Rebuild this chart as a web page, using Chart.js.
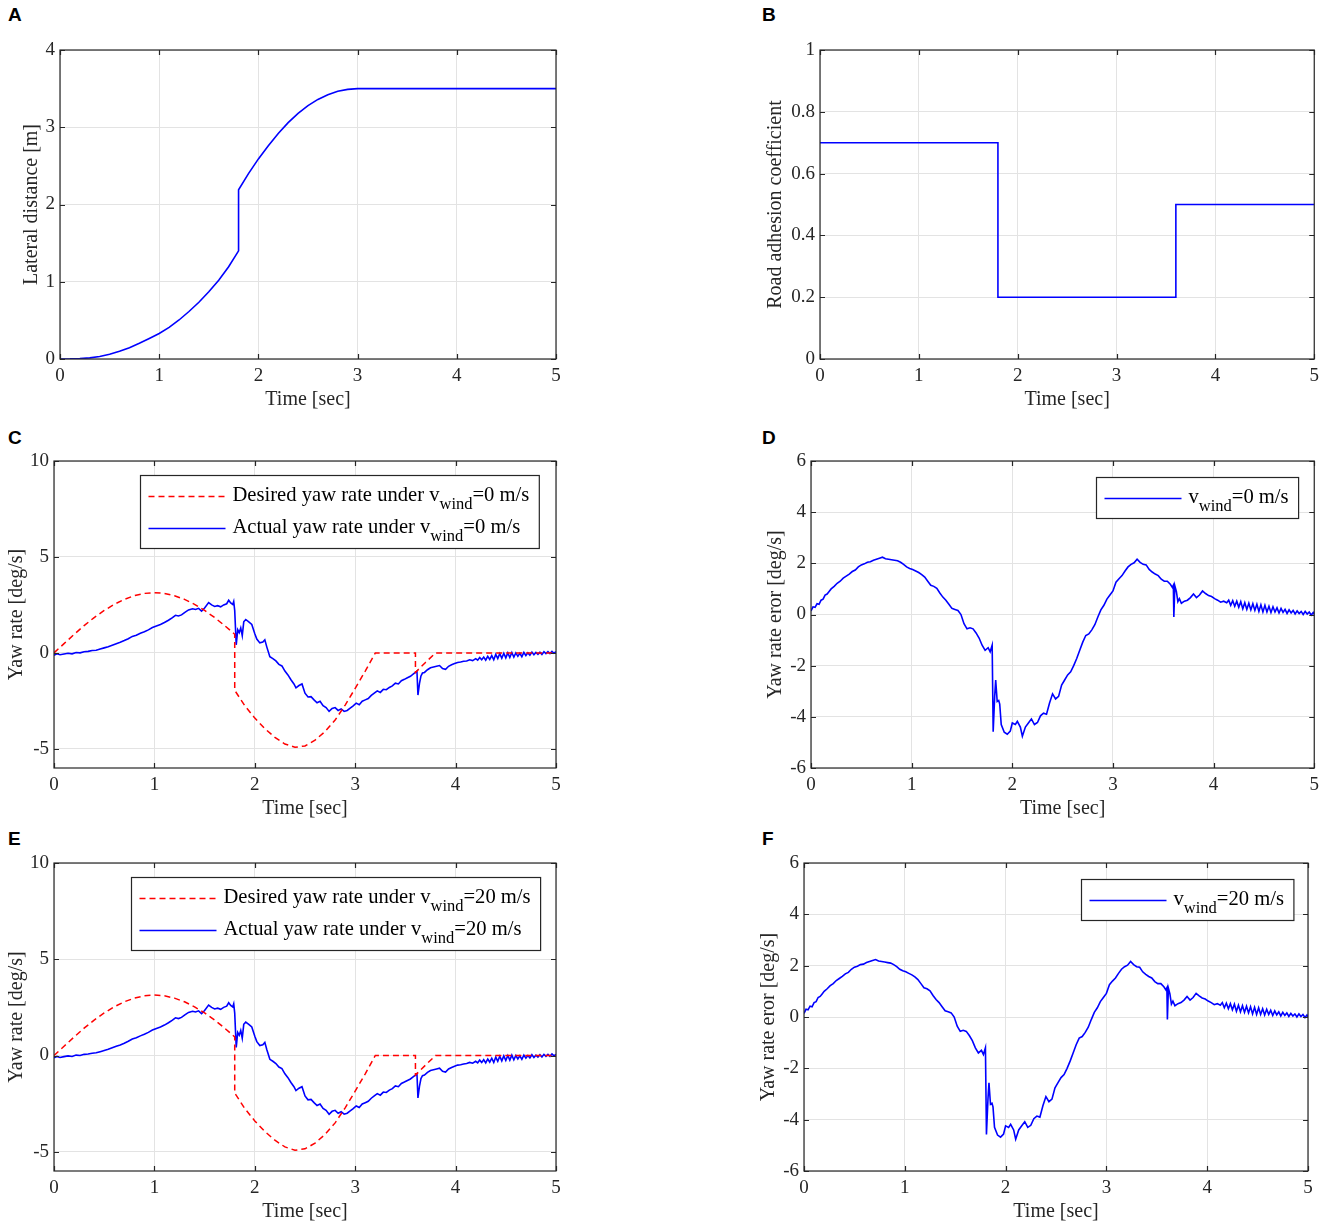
<!DOCTYPE html>
<html><head><meta charset="utf-8">
<script src="https://cdn.jsdelivr.net/npm/chart.js@4.4.1/dist/chart.umd.min.js"></script>
<style>
html,body{margin:0;padding:0;background:#fff;}
body{width:1325px;height:1226px;position:relative;overflow:hidden;}
canvas{position:absolute;}
.lbl{position:absolute;font:bold 19px "Liberation Sans",Arial,sans-serif;line-height:19px;color:#000;}
</style></head><body>
<div class="lbl" style="left:8px;top:5px">A</div>
<div class="lbl" style="left:762px;top:5px">B</div>
<div class="lbl" style="left:8px;top:428px">C</div>
<div class="lbl" style="left:762px;top:428px">D</div>
<div class="lbl" style="left:8px;top:829px">E</div>
<div class="lbl" style="left:762px;top:829px">F</div>
<canvas id="cA" width="640" height="390" style="left:0;top:30px"></canvas>
<canvas id="cB" width="585" height="390" style="left:740px;top:30px"></canvas>
<canvas id="cC" width="640" height="400" style="left:0;top:430px"></canvas>
<canvas id="cD" width="585" height="400" style="left:740px;top:430px"></canvas>
<canvas id="cE" width="640" height="394" style="left:0;top:832px"></canvas>
<canvas id="cF" width="585" height="394" style="left:740px;top:832px"></canvas>
<script>
// ---------------- DATA ----------------
const timeTicks = [0, 1, 2, 3, 4, 5];
const lateralTicks = [0, 1, 2, 3, 4];
const adhesionTicks = [0, 0.2, 0.4, 0.6, 0.8, 1];
const yawRateTicks = [-5, 0, 5, 10];
const yawErrorTicks = [-6, -4, -2, 0, 2, 4, 6];

// [time (s), lateral distance (m)]
const lateralDistance = [[0,0],[0.1,0.001],[0.2,0.005],[0.3,0.015],[0.4,0.033],[0.5,0.061],[0.6,0.099],[0.7,0.147],[0.8,0.204],[0.9,0.266],[1.0,0.33],[1.1,0.41],[1.2,0.505],[1.3,0.615],[1.4,0.735],[1.5,0.87],[1.6,1.02],[1.7,1.195],[1.8,1.40],[1.8,2.19],[1.9,2.40],[2.0,2.59],[2.1,2.76],[2.2,2.92],[2.3,3.06],[2.4,3.18],[2.5,3.28],[2.6,3.36],[2.7,3.42],[2.8,3.465],[2.9,3.49],[3.0,3.5],[5.0,3.5]];

// [time (s), road adhesion coefficient]
const roadAdhesion = [[0,0.7],[1.8,0.7],[1.8,0.2],[3.6,0.2],[3.6,0.5],[5,0.5]];

// [time (s), desired yaw rate (deg/s)]
const desiredYawRate = [[0,0],[0.1,0.48],[0.2,0.96],[0.3,1.42],[0.4,1.84],[0.5,2.21],[0.6,2.53],[0.7,2.79],[0.8,2.98],[0.9,3.10],[1.0,3.14],[1.1,3.10],[1.2,2.98],[1.3,2.79],[1.4,2.53],[1.5,2.21],[1.6,1.84],[1.7,1.42],[1.8,0.97],[1.8,-1.95],[1.9,-2.75],[2.0,-3.40],[2.1,-3.95],[2.2,-4.40],[2.3,-4.75],[2.4,-4.92],[2.5,-4.85],[2.6,-4.55],[2.7,-4.10],[2.8,-3.50],[2.9,-2.72],[3.0,-1.85],[3.1,-0.95],[3.2,0],[3.6,0],[3.6,-1.02],[3.7,-0.5],[3.8,0],[5.0,0]];

// [time (s), actual yaw rate (deg/s)]
const actualYawRate = [[0,-0.12],[0.03,-0.05],[0.06,-0.10],[0.10,-0.06],[0.14,-0.02],[0.18,-0.05],[0.22,0.02],[0.26,0.00],[0.30,0.06],[0.34,0.08],[0.38,0.12],[0.42,0.14],[0.46,0.20],[0.50,0.26],[0.54,0.32],[0.58,0.40],[0.62,0.48],[0.66,0.55],[0.70,0.64],[0.74,0.74],[0.78,0.86],[0.82,0.92],[0.86,1.02],[0.90,1.10],[0.94,1.20],[0.98,1.32],[1.02,1.40],[1.06,1.48],[1.10,1.58],[1.14,1.70],[1.18,1.84],[1.21,1.96],[1.24,1.92],[1.27,1.98],[1.30,2.10],[1.34,2.24],[1.38,2.30],[1.41,2.26],[1.44,2.32],[1.47,2.18],[1.50,2.34],[1.54,2.62],[1.57,2.50],[1.60,2.42],[1.63,2.46],[1.66,2.40],[1.69,2.50],[1.72,2.56],[1.74,2.74],[1.76,2.60],[1.78,2.52],[1.79,2.68],[1.80,2.20],[1.815,0.42],[1.83,1.20],[1.845,1.05],[1.86,1.30],[1.875,0.90],[1.89,1.62],[1.91,1.74],[1.94,1.62],[1.97,1.48],[2.00,1.00],[2.02,0.72],[2.05,0.52],[2.08,0.56],[2.10,0.68],[2.12,0.30],[2.15,-0.20],[2.18,-0.30],[2.21,-0.42],[2.24,-0.60],[2.27,-0.68],[2.30,-0.95],[2.33,-1.15],[2.36,-1.40],[2.39,-1.62],[2.41,-1.82],[2.44,-1.70],[2.47,-1.62],[2.50,-2.10],[2.53,-2.30],[2.56,-2.28],[2.59,-2.45],[2.62,-2.60],[2.65,-2.52],[2.68,-2.75],[2.71,-2.85],[2.74,-3.05],[2.77,-2.90],[2.80,-2.85],[2.83,-3.00],[2.86,-2.92],[2.89,-3.05],[2.92,-3.00],[2.95,-2.88],[2.98,-2.76],[3.01,-2.62],[3.04,-2.70],[3.07,-2.52],[3.10,-2.45],[3.13,-2.38],[3.16,-2.22],[3.19,-2.10],[3.22,-1.98],[3.25,-2.06],[3.28,-1.90],[3.31,-1.92],[3.34,-1.80],[3.37,-1.72],[3.40,-1.58],[3.43,-1.62],[3.46,-1.45],[3.49,-1.38],[3.52,-1.30],[3.55,-1.22],[3.58,-1.10],[3.60,-1.02],[3.615,-0.95],[3.625,-2.20],[3.64,-1.60],[3.655,-1.20],[3.67,-1.05],[3.69,-1.02],[3.72,-0.88],[3.75,-0.78],[3.78,-0.74],[3.81,-0.70],[3.84,-0.66],[3.87,-0.82],[3.90,-0.86],[3.93,-0.70],[3.96,-0.62],[3.99,-0.56],[4.02,-0.50],[4.05,-0.48],[4.08,-0.44],[4.11,-0.42],[4.14,-0.36],[4.17,-0.40],[4.20,-0.30],[4.22,-0.38],[4.24,-0.24],[4.26,-0.36],[4.28,-0.22],[4.30,-0.38],[4.32,-0.18],[4.34,-0.34],[4.36,-0.14],[4.38,-0.36],[4.40,-0.08],[4.42,-0.30],[4.44,-0.04],[4.46,-0.28],[4.48,-0.02],[4.50,-0.26],[4.52,0.00],[4.54,-0.24],[4.56,0.02],[4.58,-0.22],[4.60,0.00],[4.62,-0.18],[4.64,-0.02],[4.66,-0.20],[4.68,0.02],[4.70,-0.14],[4.72,0.00],[4.74,-0.12],[4.76,0.04],[4.78,-0.10],[4.80,0.02],[4.82,-0.08],[4.84,0.04],[4.86,-0.08],[4.88,0.06],[4.90,-0.04],[4.92,0.06],[4.94,-0.04],[4.96,0.08],[4.98,-0.02],[5.00,0.06]];

// [time (s), yaw rate error (deg/s)]
const yawRateError = [[0,0.14],[0.02,0.30],[0.04,0.28],[0.06,0.42],[0.08,0.40],[0.10,0.56],[0.12,0.60],[0.14,0.76],[0.16,0.80],[0.18,0.90],[0.20,1.00],[0.23,1.10],[0.26,1.22],[0.29,1.30],[0.32,1.42],[0.35,1.50],[0.38,1.58],[0.41,1.68],[0.44,1.74],[0.47,1.86],[0.50,1.94],[0.53,1.98],[0.56,2.04],[0.59,2.06],[0.62,2.12],[0.65,2.16],[0.68,2.20],[0.71,2.24],[0.74,2.18],[0.77,2.16],[0.80,2.14],[0.83,2.12],[0.86,2.10],[0.89,2.04],[0.92,1.96],[0.95,1.86],[0.98,1.80],[1.01,1.76],[1.04,1.70],[1.07,1.64],[1.10,1.56],[1.13,1.46],[1.16,1.30],[1.19,1.14],[1.22,1.10],[1.25,1.02],[1.28,0.84],[1.31,0.68],[1.34,0.56],[1.37,0.40],[1.40,0.24],[1.43,0.20],[1.46,0.16],[1.49,0.00],[1.52,-0.36],[1.55,-0.56],[1.58,-0.52],[1.61,-0.56],[1.64,-0.72],[1.67,-0.92],[1.70,-1.20],[1.73,-1.40],[1.76,-1.30],[1.78,-1.46],[1.80,-1.20],[1.81,-4.58],[1.825,-3.20],[1.835,-2.56],[1.85,-3.40],[1.865,-3.36],[1.875,-3.50],[1.89,-4.30],[1.92,-4.60],[1.95,-4.68],[1.98,-4.56],[2.00,-4.24],[2.03,-4.30],[2.05,-4.18],[2.08,-4.40],[2.10,-4.76],[2.13,-4.40],[2.16,-4.24],[2.19,-4.08],[2.22,-4.30],[2.25,-4.22],[2.28,-3.96],[2.31,-3.86],[2.34,-3.90],[2.37,-3.46],[2.40,-3.10],[2.43,-3.30],[2.46,-3.20],[2.49,-2.76],[2.52,-2.56],[2.55,-2.36],[2.58,-2.24],[2.61,-2.00],[2.64,-1.72],[2.67,-1.40],[2.70,-1.08],[2.73,-0.82],[2.76,-0.76],[2.79,-0.60],[2.82,-0.40],[2.85,-0.10],[2.88,0.18],[2.91,0.36],[2.94,0.60],[2.97,0.76],[3.00,0.92],[3.03,1.26],[3.06,1.40],[3.09,1.52],[3.12,1.70],[3.15,1.86],[3.18,1.96],[3.21,2.02],[3.24,2.16],[3.27,2.04],[3.30,1.96],[3.33,1.94],[3.36,1.76],[3.39,1.66],[3.42,1.58],[3.45,1.52],[3.48,1.38],[3.51,1.30],[3.54,1.30],[3.57,1.18],[3.59,1.06],[3.60,1.14],[3.605,-0.10],[3.615,1.12],[3.63,0.90],[3.645,0.50],[3.66,0.62],[3.68,0.44],[3.71,0.52],[3.74,0.56],[3.77,0.66],[3.80,0.80],[3.83,0.66],[3.86,0.76],[3.89,0.92],[3.92,0.82],[3.95,0.74],[3.98,0.70],[4.01,0.62],[4.04,0.56],[4.07,0.48],[4.10,0.52],[4.13,0.46],[4.15,0.56],[4.17,0.36],[4.19,0.54],[4.21,0.32],[4.23,0.52],[4.25,0.28],[4.27,0.50],[4.29,0.22],[4.31,0.46],[4.33,0.20],[4.35,0.44],[4.37,0.18],[4.39,0.42],[4.41,0.16],[4.43,0.40],[4.45,0.12],[4.47,0.38],[4.49,0.10],[4.51,0.36],[4.53,0.10],[4.55,0.32],[4.57,0.08],[4.59,0.30],[4.61,0.10],[4.63,0.26],[4.65,0.06],[4.67,0.24],[4.69,0.08],[4.71,0.20],[4.73,0.04],[4.75,0.18],[4.77,0.06],[4.79,0.16],[4.81,0.02],[4.83,0.14],[4.85,0.04],[4.87,0.12],[4.89,0.00],[4.91,0.12],[4.93,0.02],[4.95,0.10],[4.97,-0.02],[4.99,0.08],[5.00,0.00]];

// Panels E and F (v_wind = 20 m/s) read identical to C and D in the figure
const desiredYawRate20 = desiredYawRate;
const actualYawRate20 = actualYawRate;
const yawRateError20 = yawRateError;

// ---------------- RENDERING ----------------
const SERIF = '"Liberation Serif", "Times New Roman", serif';
const AX = '#262626';
const BLUE = '#0000ff';
const RED = '#ff0000';
const toXY = arr => arr.map(p => ({x: p[0], y: p[1]}));

const framePlugin = {
  id: 'matFrame',
  afterDatasetsDraw(chart) {
    const {ctx, chartArea: a, scales: {x, y}} = chart;
    ctx.save();
    ctx.strokeStyle = AX;
    ctx.lineWidth = 1.2;
    ctx.setLineDash([]);
    ctx.beginPath();
    const L = 5;
    x.ticks.forEach(t => {
      const p = Math.round(x.getPixelForValue(t.value)) + 0.5;
      ctx.moveTo(p, a.bottom); ctx.lineTo(p, a.bottom - L);
      ctx.moveTo(p, a.top); ctx.lineTo(p, a.top + L);
    });
    y.ticks.forEach(t => {
      const p = Math.round(y.getPixelForValue(t.value)) + 0.5;
      ctx.moveTo(a.left, p); ctx.lineTo(a.left + L, p);
      ctx.moveTo(a.right, p); ctx.lineTo(a.right - L, p);
    });
    ctx.stroke();
    ctx.strokeRect(a.left, a.top, a.right - a.left, a.bottom - a.top);
    ctx.restore();
  }
};

const subLegendPlugin = {
  id: 'subLegend',
  afterDraw(chart, args, opts) {
    if (!opts || !opts.items) return;
    const {ctx, chartArea: a} = chart;
    const main = '20.6px ' + SERIF, sub = '16.5px ' + SERIF;
    ctx.save();
    const widths = opts.items.map(it => {
      ctx.font = main;
      let w = ctx.measureText(it.pre).width + ctx.measureText(it.post).width;
      ctx.font = sub;
      w += ctx.measureText(it.sub).width;
      return w;
    });
    const textW = Math.max(...widths);
    const padL = 8, lineLen = 77, gap = 7, padR = 10, padT = 21, rowH = 32, padB = 20;
    const boxW = padL + lineLen + gap + textW + padR;
    const boxH = padT + rowH * (opts.items.length - 1) + padB;
    const bx = Math.round(a.right - opts.right - boxW) + 0.5;
    const by = Math.round(a.top + opts.top) + 0.5;
    ctx.fillStyle = '#fff';
    ctx.fillRect(bx, by, boxW, boxH);
    ctx.strokeStyle = AX;
    ctx.lineWidth = 1.2;
    ctx.strokeRect(bx, by, boxW, boxH);
    opts.items.forEach((it, i) => {
      const ds = chart.data.datasets[it.datasetIndex];
      const cy = by + padT + rowH * i;
      ctx.strokeStyle = ds.borderColor;
      ctx.lineWidth = ds.borderWidth;
      ctx.setLineDash(ds.borderDash || []);
      ctx.beginPath();
      ctx.moveTo(bx + padL, cy);
      ctx.lineTo(bx + padL + lineLen, cy);
      ctx.stroke();
      ctx.setLineDash([]);
      ctx.fillStyle = '#000';
      ctx.textBaseline = 'alphabetic';
      ctx.textAlign = 'left';
      let tx = bx + padL + lineLen + gap;
      const base = cy + 4;
      ctx.font = main;
      ctx.fillText(it.pre, tx, base);
      tx += ctx.measureText(it.pre).width;
      ctx.font = sub;
      ctx.fillText(it.sub, tx, base + 8);
      tx += ctx.measureText(it.sub).width;
      ctx.font = main;
      ctx.fillText(it.post, tx, base);
    });
    ctx.restore();
  }
};

function makePanel(id, g, yMin, yMax, yTicks, yTitle, datasets, legend) {
  const tickFont = {family: SERIF, size: 19};
  const titleFont = {family: SERIF, size: 20, lineHeight: 1.2};
  new Chart(document.getElementById(id), {
    type: 'line',
    data: {datasets},
    plugins: [framePlugin, subLegendPlugin],
    options: {
      responsive: false,
      animation: false,
      events: [],
      layout: {padding: {top: g.padTop, right: g.padRight, bottom: 0, left: 0}},
      elements: {point: {radius: 0}, line: {tension: 0}},
      plugins: {
        legend: {display: false},
        tooltip: {enabled: false},
        subLegend: legend || {}
      },
      scales: {
        x: {
          type: 'linear', min: 0, max: 5,
          afterBuildTicks: s => { s.ticks = timeTicks.map(v => ({value: v})); },
          afterFit: s => { s.height = g.xAxisH; },
          grid: {color: '#e3e3e3', lineWidth: 1, drawTicks: false},
          border: {display: false},
          ticks: {font: tickFont, color: AX, padding: 6, maxRotation: 0, autoSkip: false,
                  callback: v => String(v)},
          title: {display: true, text: 'Time [sec]', font: titleFont, color: AX,
                  padding: {top: 0, bottom: g.xTitlePad}}
        },
        y: {
          type: 'linear', min: yMin, max: yMax,
          afterBuildTicks: s => { s.ticks = yTicks.map(v => ({value: v})); },
          afterFit: s => { s.width = g.yAxisW; },
          grid: {color: '#e3e3e3', lineWidth: 1, drawTicks: false},
          border: {display: false},
          ticks: {font: tickFont, color: AX, padding: 5, autoSkip: false,
                  callback: v => String(v)},
          title: {display: true, text: yTitle, font: titleFont, color: AX,
                  padding: {top: g.yTitlePad, bottom: 0}}
        }
      }
    }
  });
}

const blueLine = data => ({data: toXY(data), borderColor: BLUE, borderWidth: 1.6, fill: false});
const redDash = data => ({data: toXY(data), borderColor: RED, borderWidth: 1.5, borderDash: [6, 4], fill: false});

makePanel('cA', {yAxisW: 60, padTop: 20, padRight: 84, xAxisH: 61, yTitlePad: 20, xTitlePad: 8},
  0, 4, lateralTicks, 'Lateral distance [m]', [blueLine(lateralDistance)]);

makePanel('cB', {yAxisW: 80, padTop: 20, padRight: 9, xAxisH: 61, yTitlePad: 24, xTitlePad: 8},
  0, 1, adhesionTicks, 'Road adhesion coefficient', [blueLine(roadAdhesion)]);

makePanel('cC', {yAxisW: 54, padTop: 31, padRight: 84, xAxisH: 62, yTitlePad: 5, xTitlePad: 9},
  -6, 10, yawRateTicks, 'Yaw rate [deg/s]',
  [redDash(desiredYawRate), blueLine(actualYawRate)],
  {right: 17, top: 14, items: [
    {datasetIndex: 0, pre: 'Desired yaw rate under v', sub: 'wind', post: '=0 m/s'},
    {datasetIndex: 1, pre: 'Actual yaw rate under v', sub: 'wind', post: '=0 m/s'}]});

makePanel('cD', {yAxisW: 71, padTop: 31, padRight: 9, xAxisH: 62, yTitlePad: 24, xTitlePad: 9},
  -6, 6, yawErrorTicks, 'Yaw rate eror [deg/s]',
  [blueLine(yawRateError)],
  {right: 16, top: 16, items: [{datasetIndex: 0, pre: 'v', sub: 'wind', post: '=0 m/s'}]});

makePanel('cE', {yAxisW: 54, padTop: 31, padRight: 84, xAxisH: 55, yTitlePad: 5, xTitlePad: 2},
  -6, 10, yawRateTicks, 'Yaw rate [deg/s]',
  [redDash(desiredYawRate20), blueLine(actualYawRate20)],
  {right: 16, top: 14, items: [
    {datasetIndex: 0, pre: 'Desired yaw rate under v', sub: 'wind', post: '=20 m/s'},
    {datasetIndex: 1, pre: 'Actual yaw rate under v', sub: 'wind', post: '=20 m/s'}]});

makePanel('cF', {yAxisW: 64, padTop: 31, padRight: 17, xAxisH: 55, yTitlePad: 17, xTitlePad: 2},
  -6, 6, yawErrorTicks, 'Yaw rate eror [deg/s]',
  [blueLine(yawRateError20)],
  {right: 15, top: 16, items: [{datasetIndex: 0, pre: 'v', sub: 'wind', post: '=20 m/s'}]});
</script>
</body></html>
